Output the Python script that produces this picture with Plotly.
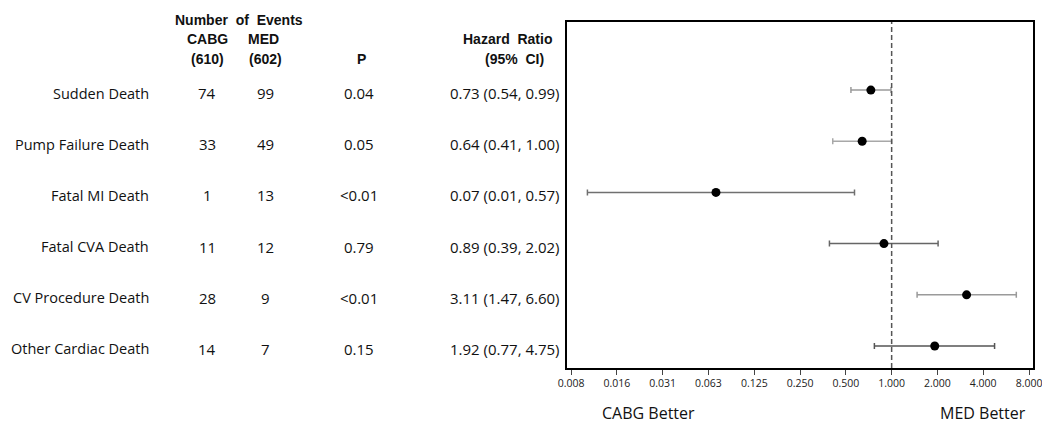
import plotly.graph_objects as go

# ---- data ----
outcomes = ["Sudden Death", "Pump Failure Death", "Fatal MI Death",
            "Fatal CVA Death", "CV Procedure Death", "Other Cardiac Death"]
cabg_events = [74, 33, 1, 11, 28, 14]
med_events = [99, 49, 13, 12, 9, 7]
p_values = ["0.04", "0.05", "<0.01", "0.79", "<0.01", "0.15"]
hr = [0.73, 0.64, 0.07, 0.89, 3.11, 1.92]
ci_low = [0.54, 0.41, 0.01, 0.39, 1.47, 0.77]
ci_high = [0.99, 1.00, 0.57, 2.02, 6.60, 4.75]
tick_vals = [2 ** k for k in range(-7, 4)]
tick_text = ["0.008", "0.016", "0.031", "0.063", "0.125", "0.250",
             "0.500", "1.000", "2.000", "4.000", "8.000"]

# ---- styles / layout ----
ci_colors = ["#9a9a9a", "#a8a8a8", "#707070", "#666666", "#9a9a9a", "#555555"]
OFF = 8                      # page body margin
W, H = 1050 - OFF, 440 - 2 * OFF
plot_left, plot_right, plot_top, plot_bottom = 563 - OFF, 1033 - OFF, 22 - OFF, 368 - OFF
ML, MR, MT, MB = 0, W - plot_right, plot_top, H - plot_bottom
PW = W - ML - MR
PH = H - MT - MB


def px(x):
    return x - OFF


def py(y):
    return (plot_bottom - (y - OFF)) / PH


body_font = dict(family="Open Sans, Noto Sans, sans-serif", size=15, color="#111")
label_font = dict(family="Open Sans, Noto Sans, sans-serif", size=14.5, color="#111")
head_font = dict(family="Liberation Sans Narrow, Arial Narrow, Liberation Sans, sans-serif",
                 size=14, color="#111")

fig = go.Figure()
rows = list(range(1, len(outcomes) + 1))

for i, r in enumerate(rows):
    fig.add_trace(go.Scatter(
        x=[hr[i]], y=[r], mode="markers",
        marker=dict(color="black", size=9),
        error_x=dict(type="data", symmetric=False,
                     array=[ci_high[i] - hr[i]], arrayminus=[hr[i] - ci_low[i]],
                     color=ci_colors[i], thickness=1.5, width=3),
        showlegend=False, hoverinfo="skip", xaxis="x", yaxis="y"))

ann = []
cols = [
    (outcomes, 143, "right", label_font),
    ([str(v) for v in cabg_events], 200, "center", body_font),
    ([str(v) for v in med_events], 259, "center", body_font),
    (p_values, 353, "center", body_font),
    ([f"{hr[i]:.2f} ({ci_low[i]:.2f}, {ci_high[i]:.2f})" for i in range(len(hr))], 558, "right", body_font),
]
for texts, x, anchor, fnt in cols:
    for i, r in enumerate(rows):
        ann.append(dict(x=px(x) / PW, y=r, xref="paper", yref="y", text=texts[i],
                        xanchor=anchor, yanchor="middle", showarrow=False,
                        font=fnt, yshift=-3))

headers = [
    ("Number&nbsp;&nbsp;of&nbsp;&nbsp;Events", 232, 20),
    ("CABG", 200, 39),
    ("MED", 257, 39),
    ("(610)", 200, 59),
    ("(602)", 259, 59),
    ("P", 356, 59),
    ("Hazard&nbsp;&nbsp;Ratio", 503, 39),
    ("(95%&nbsp;&nbsp;CI)", 510, 59),
]
for t, x, y in headers:
    ann.append(dict(x=px(x) / PW, y=py(y), xref="paper", yref="paper", text=f"<b>{t}</b>",
                    xanchor="center", yanchor="middle", showarrow=False, font=head_font))

foot_font = dict(family="Open Sans, Noto Sans, sans-serif", size=16, color="#111")
ann.append(dict(x=px(645) / PW, y=py(413), xref="paper", yref="paper",
                text="CABG Better", xanchor="center", yanchor="middle",
                showarrow=False, font=foot_font))
ann.append(dict(x=px(983) / PW, y=py(413), xref="paper", yref="paper",
                text="MED Better", xanchor="center", yanchor="middle",
                showarrow=False, font=foot_font))

shapes = [
    dict(type="line", xref="x", yref="paper", x0=1, x1=1, y0=0, y1=1,
         line=dict(color="#555", width=1.5, dash="5px,3px")),
    dict(type="rect", xref="paper", yref="paper", layer="above",
         x0=px(1043) / PW, x1=px(1060) / PW, y0=py(460), y1=py(-10),
         fillcolor="black", line=dict(color="black", width=1)),
]

fig.update_layout(
    width=W, height=H,
    margin=dict(l=ML, r=MR, t=MT, b=MB),
    paper_bgcolor="white", plot_bgcolor="white",
    xaxis=dict(type="log", domain=[px(563) / PW, 1],
               range=[-7.087 * 0.30103, 3.087 * 0.30103],
               tickvals=tick_vals, ticktext=tick_text,
               ticks="outside", ticklen=5, tickcolor="#444", tickwidth=1,
               tickfont=dict(family="Open Sans, Noto Sans, sans-serif", size=10.5, color="#222"),
               showgrid=False, zeroline=False,
               showline=True, mirror=True, linecolor="black", linewidth=1.5),
    yaxis=dict(range=[6.43, -0.33], showticklabels=False, ticks="",
               showgrid=False, zeroline=False,
               showline=True, mirror=True, linecolor="black", linewidth=1.5),
    annotations=ann,
    shapes=shapes,
)

fig.write_html("out.html")
